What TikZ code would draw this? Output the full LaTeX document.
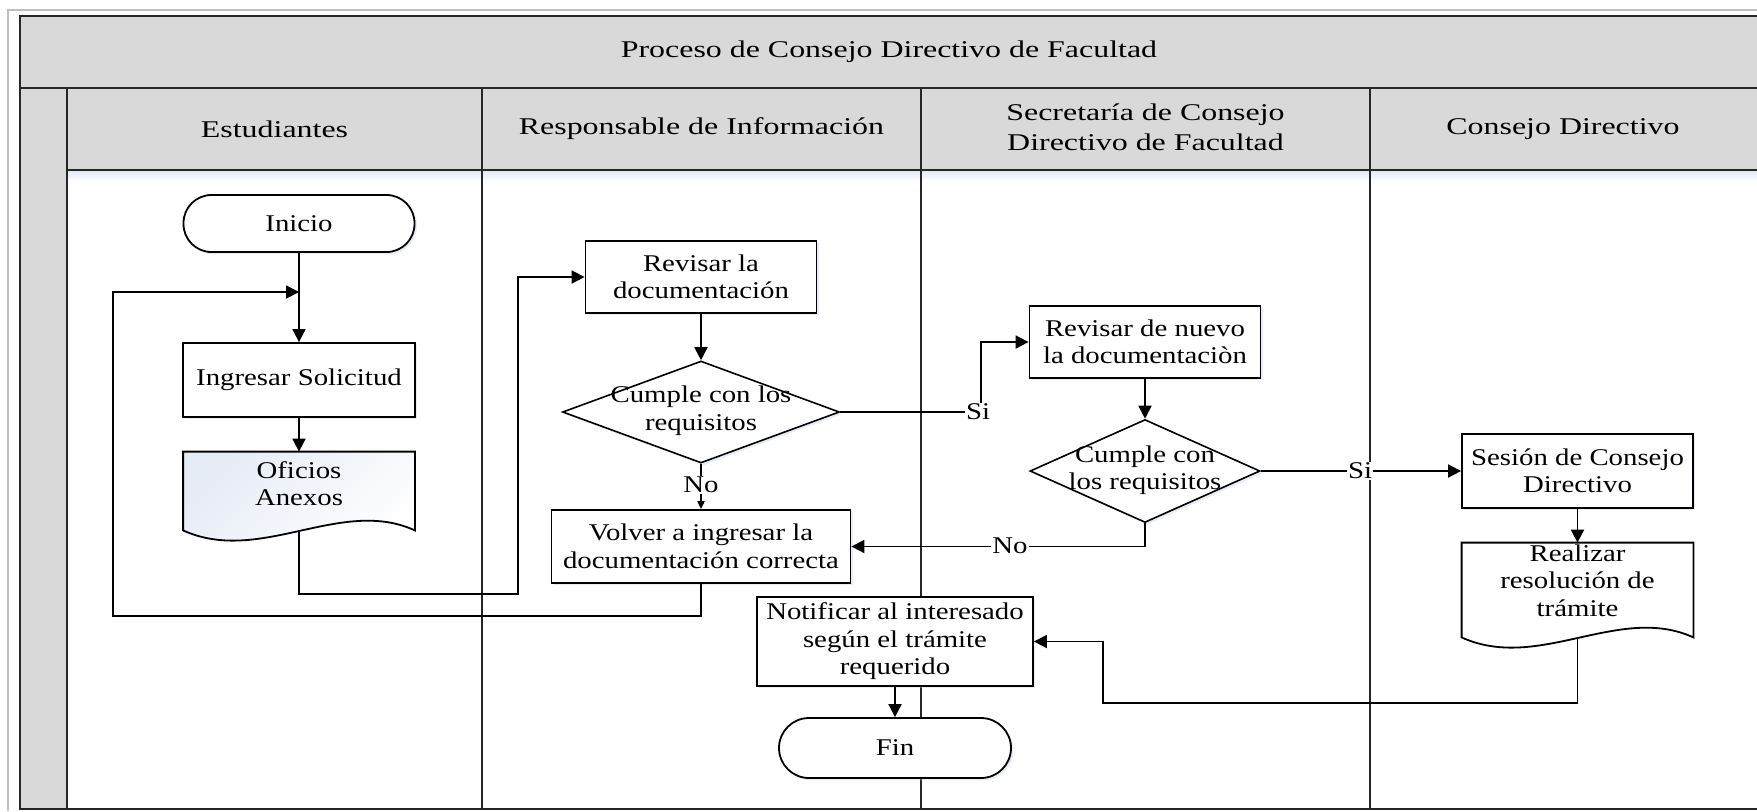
\documentclass[tikz,border=0pt]{standalone}
\usepackage{fontspec}
\setmainfont[FakeStretch=1.2]{Liberation Serif}
\newfontfamily\hdrfont[FakeStretch=1.33]{Liberation Serif}
\usetikzlibrary{arrows.meta,shapes.geometric,shadows,calc}

% outline of a document symbol (flat top, wavy bottom) around an empty node
\newcommand\docpath[2][]{%
  \draw[docline,#1] (#2.south east) -- (#2.north east) -- (#2.north west) -- (#2.south west)
    .. controls ($(#2.south west)+(77,35)$) and ($(#2.south east)+(-74,-34)$) .. (#2.south east) -- cycle;
}

\definecolor{hdrgray}{RGB}{217,217,217}
\definecolor{shadowblue}{RGB}{185,200,228}
\definecolor{docblue}{RGB}{230,236,246}
\definecolor{glowblue}{RGB}{226,234,245}

\begin{document}
\begin{tikzpicture}[x=0.5pt,y=-0.5pt,
  bodytext/.style={font=\fontsize{12pt}{13.75pt}\selectfont, align=center},
  hdrtext/.style={font=\hdrfont\fontsize{12pt}{15pt}\selectfont, align=center},
  frameline/.style={line width=1pt, draw=black!85},
  softshadow/.style={drop shadow={shadow xshift=1.2pt,shadow yshift=-1.2pt,fill=shadowblue,opacity=0.35}},
  procbox/.style={draw, fill=white, line width=0.9pt, bodytext, inner sep=1pt, softshadow},
  termbox/.style={procbox},
  decision/.style={diamond, draw, fill=white, line width=0.8pt, inner sep=0pt, softshadow},
  docnode/.style={minimum width=115.5pt, inner sep=0pt},
  docline/.style={draw, line width=0.9pt},
  flow/.style={line width=0.9pt, -{Triangle[length=6.5pt,width=6.5pt]}},
  flowsmall/.style={line width=0.9pt, -{Triangle[length=4pt,width=3.5pt]}},
  lbl/.style={bodytext, fill=white, inner sep=0.5pt},
]
\useasboundingbox (0,0) rectangle (1757,811);

% ---------- pool and lanes ----------
\fill[hdrgray] (20,16) rectangle (1757,88);
\fill[hdrgray] (67,88) rectangle (1757,170);
\fill[hdrgray] (20,88) rectangle (67,809);
\shade[top color=glowblue, bottom color=white] (67,171) rectangle (1757,181);

\draw[line width=1pt, draw=black!25] (8,811) -- (8,10) -- (1757,10);
\draw[frameline] (1757,16) -- (20,16) -- (20,809) -- (1757,809);
\draw[frameline] (20,88) -- (1757,88);
\draw[frameline] (67,170) -- (1757,170);
\foreach \lx in {67,482,921,1370}
  \draw[frameline] (\lx,88) -- (\lx,809);

\node[hdrtext] (title) at (889,52) {Proceso de Consejo Directivo de Facultad};
\node[hdrtext] (hest) at (274.5,129) {Estudiantes};
\node[hdrtext] (hres) at (701.5,129) {Responsable de Información};
\node[hdrtext] (hsec) at (1145.5,127) {Secretaría de Consejo\\Directivo de Facultad};
\node[hdrtext] (hcon) at (1563,129) {Consejo Directivo};

% ---------- Estudiantes ----------
\node[termbox, rounded corners=14pt, minimum width=115.5pt, minimum height=28.5pt] (ini) at (299,223.5) {Inicio};
\node[procbox, minimum width=116pt, minimum height=37pt] (ing) at (299,380) {Ingresar Solicitud};
\node[docnode, minimum height=39pt] (ofi) at (299,491) {};
\docpath[top color=docblue, bottom color=white, shading angle=45]{ofi}
\node[bodytext] (ofit) at (299,483.5) {Oficios\\Anexos};

% ---------- Responsable de Información ----------
\node[procbox, minimum width=115.5pt, minimum height=36pt] (rev) at (701,277) {Revisar la\\documentación};
\node[decision, minimum width=138.5pt, minimum height=51pt] (dA) at (701,412) {};
\node[bodytext] (dAt) at (701,410.5) {Cumple con los\\requisitos};
\node[procbox, minimum width=149.5pt, minimum height=36.5pt] (vol) at (701,546.5) {Volver a ingresar la\\documentación correcta};
\node[procbox, minimum width=138pt, minimum height=44.5pt] (ntf) at (895,641.5) {Notificar al interesado\\según el trámite\\requerido};
\node[termbox, rounded corners=15pt, minimum width=116pt, minimum height=30pt] (fin) at (895,748) {Fin};

% ---------- Secretaría ----------
\node[procbox, minimum width=115.5pt, minimum height=36pt] (revB) at (1145,342) {Revisar de nuevo\\la documentaciòn};
\node[decision, minimum width=115pt, minimum height=51.5pt] (dB) at (1145,471) {};
\node[bodytext] (dBt) at (1145,470) {Cumple con\\los requisitos};

% ---------- Consejo Directivo ----------
\node[procbox, minimum width=115.5pt, minimum height=37pt] (ses) at (1577.5,471) {Sesión de Consejo\\Directivo};
\node[docnode, minimum height=47pt] (rsl) at (1577.5,590) {};
\docpath[fill=white]{rsl}
\node[bodytext] (rslt) at (1577.5,580.5) {Realizar\\resolución de\\trámite};

% ---------- connector bends ----------
\coordinate (jin) at (299,292);
\coordinate (bA) at (518,594);
\coordinate (bB) at (113,616);
\coordinate (sA) at (981,412);
\coordinate (bC) at (1103,703);

% ---------- connectors ----------
\draw[flow] (ini.south) -- (ing.north);
\draw[flow] (ing.south) -- (ofi.north);
\draw[flow] (ofi.south) |- (bA) |- (rev.west);
\draw[flow] (rev.south) -- (dA.north);
\draw[flow] (dA.east) -- (sA) |- (revB.west);
\draw[flowsmall] (dA.south) -- (vol.north);
\draw[flow] (vol.south) |- (bB) |- (jin);
\draw[flow] (revB.south) -- (dB.north);
\draw[flow] (dB.south) |- (vol.east);
\draw[flow] (dB.east) -- (ses.west);
\draw[flow] (ses.south) -- (rsl.north);
\draw[flow] (rsl.south) |- (bC) |- (ntf.east);
\draw[flow] (ntf.south) -- (fin.north);

% ---------- branch labels ----------
\node[lbl] (siA) at (978,412) {Si};
\node[lbl] (noA) at (701,485) {No};
\node[lbl] (noB) at (1010,546) {No};
\node[lbl] (siB) at (1360,471) {Si};

\end{tikzpicture}
\end{document}
